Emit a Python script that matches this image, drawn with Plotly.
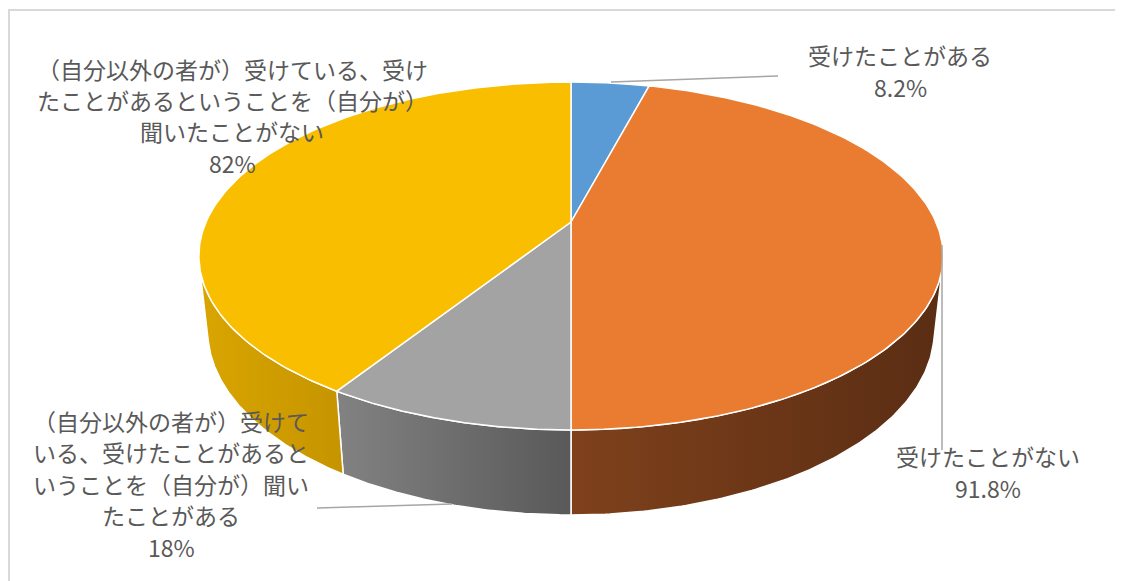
import numpy as np
import plotly.graph_objects as go

# ---- data ----
categories = [
    "受けたことがある",
    "受けたことがない",
    "（自分以外の者が）受けている、受けたことがあるということを（自分が）聞いたことがある",
    "（自分以外の者が）受けている、受けたことがあるということを（自分が）聞いたことがない",
]
values = [8.2, 91.8, 18, 82]
top_colors = ["#5B9BD5", "#E97C30", "#A3A3A3", "#F9BE00"]
wall_colors = [("#3F6E9A", "#335A80"), ("#7F411C", "#5A2D13"),
               ("#828282", "#595959"), ("#D9A500", "#C69400")]
wrap_chars = [20, 20, 12, 17]
# label layout: (center x, first line y, line spacing)
label_pos = [(900, 55, 32), (988, 456, 31.5), (171, 421, 31.4), (232, 68.5, 31.4)]
leaders = [((611, 82), (778, 76)), ((942, 245), (942, 450)), ((317, 508), (452, 504)), None]

# ---- 3D pie projection (layout constants) ----
CX, CY = 571, 222
F, DIST = 1659.0, 4.546
PHI = np.arcsin(0.4585)
H = 0.232
S, C = np.sin(PHI), np.cos(PHI)


def proj(theta_deg, h=0.0, r=1.0):
    t = np.radians(theta_deg)
    X = r * np.sin(t)
    Z = r * np.cos(t)
    yc = Z * S + h * C
    zc = DIST + Z * C - h * S
    return CX + F * X / zc, CY - F * yc / zc


# visible wall range (tangent points of the camera)
alpha = np.degrees(np.arccos(1.0 / (DIST * C)))
vis_a, vis_b = 180 - alpha, 180 + alpha

vals = np.array(values, dtype=float)
frac = vals / vals.sum()
ends = np.cumsum(frac) * 360
starts = np.concatenate([[0], ends[:-1]])

fig = go.Figure()

# walls
for i in range(len(vals)):
    a, b = max(starts[i], vis_a), min(ends[i], vis_b)
    if b <= a:
        continue
    th = np.linspace(a, b, 120)
    xt, yt = proj(th, 0.0)
    xb, yb = proj(th[::-1], -H)
    xs = np.concatenate([xt, xb, xt[:1]])
    ys = np.concatenate([yt, yb, yt[:1]])
    c1, c2 = wall_colors[i]
    fig.add_trace(go.Scatter(
        x=xs, y=ys, mode="lines", fill="toself",
        line=dict(color="white", width=1.5),
        fillgradient=dict(type="horizontal",
                          colorscale=[[0, c1], [1, c2]],
                          start=float(xs.min()), stop=float(xs.max())),
        hoverinfo="skip", showlegend=False))

# top faces
for i in range(len(vals)):
    th = np.linspace(starts[i], ends[i], 200)
    xa, ya = proj(th, 0.0)
    x0, y0 = proj(0.0, 0.0, r=0.0)
    xs = np.concatenate([[x0], xa, [x0]])
    ys = np.concatenate([[y0], ya, [y0]])
    fig.add_trace(go.Scatter(
        x=xs, y=ys, mode="lines", fill="toself",
        fillcolor=top_colors[i], line=dict(color="white", width=1.5),
        hoverinfo="skip", showlegend=False))


def wrap(text, n):
    return [text[k:k + n] for k in range(0, len(text), n)]


def fmt(v):
    return f"{v:g}%"


annotations = []
for i in range(len(vals)):
    x, y0, sp = label_pos[i]
    lines = wrap(categories[i], wrap_chars[i]) + [fmt(values[i])]
    for j, ln in enumerate(lines):
        annotations.append(dict(
            x=x, y=y0 + j * sp, xref="x", yref="y", showarrow=False,
            text=ln,
            font=dict(family="Noto Sans CJK JP", size=23, color="#595959"),
            xanchor="center", yanchor="middle", align="center"))

shapes = [dict(type="rect", xref="x", yref="y", x0=9, y0=10, x1=1140, y1=600,
               line=dict(color="#D9D9D9", width=2), layer="below")]
for ld in leaders:
    if ld is None:
        continue
    (xa, ya), (xb, yb) = ld
    shapes.append(dict(type="line", xref="x", yref="y", x0=xa, y0=ya, x1=xb, y1=yb,
                       line=dict(color="#A6A6A6", width=1.5), layer="above"))

# page body has an 8px margin: shift the axes so data units match window pixels
OFF = 8
fig.update_layout(
    width=1123, height=581, autosize=False,
    margin=dict(l=0, r=0, t=0, b=0),
    paper_bgcolor="white", plot_bgcolor="white",
    xaxis=dict(range=[OFF, 1123 + OFF], visible=False, fixedrange=True),
    yaxis=dict(range=[581 + OFF, OFF], visible=False, fixedrange=True),
    annotations=annotations, shapes=shapes, hovermode=False,
)

fig.write_html("out.html")
